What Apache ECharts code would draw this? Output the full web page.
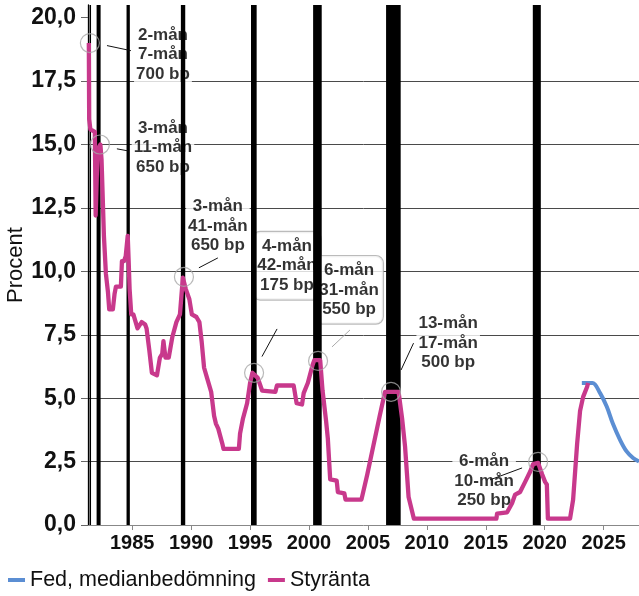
<!DOCTYPE html>
<html>
<head>
<meta charset="utf-8">
<script src="https://cdn.jsdelivr.net/npm/echarts@6/dist/echarts.min.js"></script>
<style>
html,body{margin:0;padding:0;background:#fff;}
#c{width:639px;height:596px;}
</style>
</head>
<body>
<div id="c"></div>
<script>
// ---- data ----
const styrYears = [1981.32,1981.35,1981.45,1981.83,1981.90,1981.98,1982.06,1982.30,1982.40,1982.60,1982.77,1982.94,1983.05,1983.36,1983.50,1983.62,1984.04,1984.13,1984.30,1984.45,1984.62,1984.70,1984.78,1984.92,1985.10,1985.23,1985.45,1985.80,1986.10,1986.22,1986.45,1986.67,1987.10,1987.35,1987.55,1987.65,1987.82,1988.10,1988.40,1988.75,1989.05,1989.30,1989.55,1989.85,1990.06,1990.45,1990.70,1990.90,1991.10,1991.35,1991.70,1991.95,1992.10,1992.30,1992.65,1992.75,1994.05,1994.15,1994.40,1994.75,1995.00,1995.20,1995.65,1996.02,1996.10,1997.15,1997.28,1998.70,1998.95,1999.41,1999.55,1999.90,2000.30,2000.45,2000.95,2001.15,2001.45,2001.60,2001.80,2002.35,2002.45,2003.00,2003.10,2004.45,2004.95,2005.45,2006.00,2006.45,2007.60,2007.90,2008.15,2008.30,2008.45,2008.90,2015.90,2015.96,2016.81,2017.23,2017.49,2017.91,2018.34,2018.76,2019.02,2019.44,2019.55,2019.78,2020.03,2020.18,2020.27,2022.15,2022.41,2022.75,2023.00,2023.26,2023.60,2023.68];
const styrValues = [19.0,16.0,15.6,15.5,12.2,12.2,14.8,15.0,14.4,11.4,9.9,9.2,8.5,8.5,9.1,9.4,9.4,10.4,10.4,10.6,11.4,10.4,9.3,8.3,8.3,8.25,7.75,8.0,7.9,7.75,6.9,6.0,5.9,6.6,6.75,7.25,6.6,6.6,7.4,8.0,8.3,9.75,9.3,8.9,8.3,8.2,8.0,7.2,6.2,5.8,5.25,4.3,4.0,3.8,3.2,3.0,3.0,3.6,4.2,4.8,5.6,6.0,5.8,5.3,5.25,5.25,5.5,5.5,4.8,4.75,5.2,5.6,6.3,6.5,6.5,5.3,4.1,3.4,1.8,1.75,1.3,1.25,1.0,1.0,2.0,3.1,4.3,5.25,5.25,4.2,3.1,2.1,1.1,0.25,0.25,0.45,0.5,0.86,1.2,1.3,1.7,2.1,2.4,2.45,2.4,2.0,1.7,1.6,0.25,0.25,1.0,3.2,4.5,5.05,5.45,5.6];
const fedYears = [2023.15,2024.05,2024.70,2025.27,2025.78,2026.40,2026.95,2027.50,2028.00];
const fedValues = [5.6,5.6,5.2,4.66,4.0,3.35,2.9,2.64,2.5];

const barStarts = [1981.38,1981.98,1984.52,1989.13,1995.08,2000.35,2006.54,2018.99];
const barEnds   = [1981.47,1982.32,1984.80,1989.50,1995.56,2001.08,2007.78,2019.67];

const xTickLabels = [1985,1990,1995,2000,2005,2010,2015,2020,2025];
const yTickLabels = [0,2.5,5,7.5,10,12.5,15,17.5,20];

const annTexts  = ['2-mån\n7-mån\n700 bp','3-mån\n11-mån\n650 bp','3-mån\n41-mån\n650 bp','4-mån\n42-mån\n175 bp','6-mån\n31-mån\n550 bp','13-mån\n17-mån\n500 bp','6-mån\n10-mån\n250 bp'];
const annYears  = [1987.61,1987.61,1992.27,1998.13,2003.40,2011.81,2014.86];
const annValues = [18.54,14.87,11.79,10.22,9.27,7.18,1.74];

const circleYears  = [1981.41,1982.26,1989.39,1995.34,2000.77,2006.96,2019.44];
const circleValues = [19.0,15.0,9.78,6.0,6.47,5.25,2.49];

const leadFromYears  = [1982.86,1983.70,1990.66,1996.01,2001.95,2007.81,2015.36];
const leadFromValues = [18.90,14.83,10.14,6.64,7.02,6.11,1.78];
const leadToYears    = [1984.89,1984.63,1992.27,1997.29,2003.48,2008.87,2018.08];
const leadToValues   = [18.70,14.75,10.53,7.73,7.69,7.17,2.25];

// ---- chart ----
const FONT = "'Liberation Sans', Arial, sans-serif";
const PINK = '#C8398C';
const BLUE = '#5B8ED3';
const zip = (a,b) => a.map((v,i)=>[v,b[i]]);
const borderedLabels = [3,4];

const chart = echarts.init(document.getElementById('c'), null, {renderer:'canvas'});
chart.setOption({
  animation:false,
  textStyle:{fontFamily:FONT},
  grid:{left:88,right:0,top:5,bottom:71,containLabel:false,outerBoundsMode:'none'},
  legend:{
    left:3, top:564, itemWidth:17, itemHeight:4, itemGap:12, icon:'rect',
    textStyle:{fontFamily:FONT,fontSize:21.5,color:'#111'},
    data:['Fed, medianbedömning','Styränta']
  },
  xAxis:{
    type:'value', min:1981.25, max:2028,
    axisLine:{lineStyle:{color:'#888',width:1}},
    axisTick:{customValues:xTickLabels,length:5,lineStyle:{color:'#888'}},
    axisLabel:{customValues:xTickLabels,formatter:v=>String(v),fontFamily:FONT,fontSize:20,fontWeight:'bold',color:'#111',margin:8},
    splitLine:{show:false}
  },
  yAxis:{
    type:'value', min:0, max:20.5, interval:2.5,
    name:'Procent', nameLocation:'middle', nameGap:61, nameMoveOverlap:false,
    nameTextStyle:{fontFamily:FONT,fontSize:22,color:'#111'},
    axisLine:{show:true,lineStyle:{color:'#000',width:1.3}},
    axisTick:{show:true,customValues:yTickLabels,length:7,lineStyle:{color:'#666'}},
    axisLabel:{customValues:yTickLabels,formatter:v=>v.toFixed(1).replace('.',','),fontFamily:FONT,fontSize:23,fontWeight:'bold',color:'#111',margin:12},
    splitLine:{show:true,showMaxLine:false,showMinLine:false,lineStyle:{color:'#4a4a4a',width:1}}
  },
  series:[
    {
      name:'annotations', type:'scatter', z:2, silent:true, symbolSize:1,
      itemStyle:{color:'rgba(0,0,0,0)'},
      data: annYears.map((y,i)=>{
        const item = {value:[y,annValues[i]]};
        if (borderedLabels.includes(i)) {
          item.label = {borderColor:'#aaa',borderWidth:1.2,borderRadius:7,padding:[5,4,4,4]};
        }
        return item;
      }),
      label:{
        show:true, position:'inside', formatter:p=>annTexts[p.dataIndex],
        fontFamily:FONT, fontSize:17, fontWeight:'bold', color:'#000', lineHeight:19.5,
        align:'center', backgroundColor:'#fff', padding:[1,2,1,2]
      }
    },
    {
      name:'bars', type:'custom', z:3, silent:true,
      data: zip(barStarts,barEnds),
      renderItem:(params,api)=>{
        const p1 = api.coord([api.value(0),0]);
        const p2 = api.coord([api.value(1),0]);
        const top = params.coordSys.y;
        return {type:'rect',shape:{x:p1[0],y:top,width:Math.max(1.5,p2[0]-p1[0]),height:p1[1]-top},style:{fill:'#000'}};
      }
    },
    {
      name:'Fed, medianbedömning', type:'line', z:4, smooth:0.35, symbol:'none',
      lineStyle:{color:BLUE,width:4}, itemStyle:{color:BLUE},
      data: zip(fedYears,fedValues)
    },
    {
      name:'Styränta', type:'line', z:5, symbol:'none',
      lineStyle:{color:PINK,width:4.3,join:'round'}, itemStyle:{color:PINK},
      data: zip(styrYears,styrValues)
    },
    {
      name:'leaders', type:'lines', coordinateSystem:'cartesian2d', z:6, silent:true,
      lineStyle:{color:'#111',width:1,opacity:1,curveness:0},
      data: leadFromYears.map((y,i)=>({
        coords:[[y,leadFromValues[i]],[leadToYears[i],leadToValues[i]]],
        lineStyle: i===4 ? {color:'#aaa'} : undefined
      }))
    },
    {
      name:'circles', type:'scatter', z:7, silent:true, symbol:'circle', symbolSize:19,
      itemStyle:{color:'rgba(0,0,0,0)',borderColor:'#a8a8a8',borderWidth:1.2},
      data: zip(circleYears,circleValues)
    }
  ]
});
</script>
</body>
</html>
